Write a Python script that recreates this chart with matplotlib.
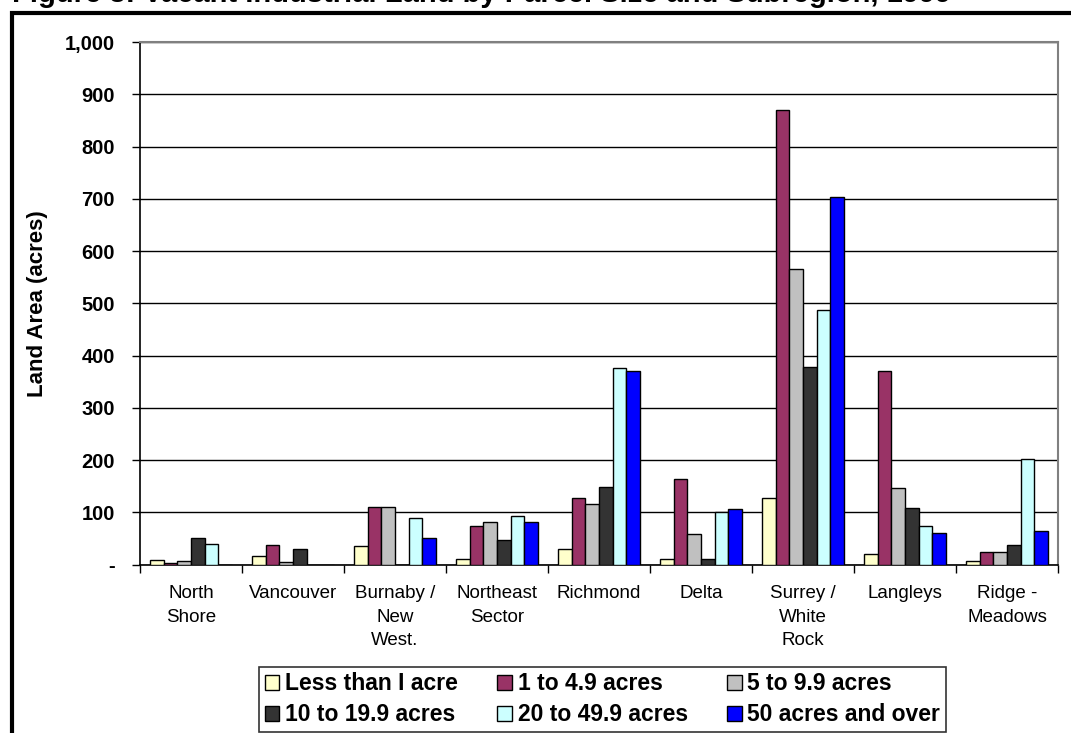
import matplotlib
matplotlib.use("Agg")
import matplotlib.pyplot as plt
import numpy as np
from matplotlib.patches import Rectangle

# Vacant industrial land by parcel size class, per subregion (acres)
subregions = ["North\nShore", "Vancouver", "Burnaby /\nNew\nWest.", "Northeast\nSector",
              "Richmond", "Delta", "Surrey /\nWhite\nRock", "Langleys", "Ridge -\nMeadows"]
size_classes = ["Less than I acre", "1 to 4.9 acres", "5 to 9.9 acres",
                "10 to 19.9 acres", "20 to 49.9 acres", "50 acres and over"]
less_than_1 = [8, 16, 35, 11, 29, 10, 127, 21, 7]
acres_1_to_5 = [2, 37, 111, 74, 127, 163, 870, 370, 23]
acres_5_to_10 = [6, 5, 111, 82, 116, 58, 565, 147, 24]
acres_10_to_20 = [51, 29, 0, 47, 149, 11, 378, 108, 38]
acres_20_to_50 = [39, 0, 89, 92, 376, 101, 487, 73, 201]
acres_50_plus = [0, 0, 50, 82, 370, 106, 704, 60, 65]
y_ticks = [0, 100, 200, 300, 400, 500, 600, 700, 800, 900, 1000]
y_tick_labels = ["-", "100", "200", "300", "400", "500", "600", "700", "800", "900", "1,000"]

series = [less_than_1, acres_1_to_5, acres_5_to_10, acres_10_to_20, acres_20_to_50, acres_50_plus]
colors = ["#FFFFCC", "#993366", "#C0C0C0", "#333333", "#CCFFFF", "#0000FF"]

plt.rcParams["font.family"] = ["Liberation Sans", "DejaVu Sans"]

W, H = 1071, 733
fig = plt.figure(figsize=(W / 100, H / 100), dpi=100)
fig.patch.set_facecolor("white")

ax = fig.add_axes([140 / W, 1 - 564.5 / H, (1058 - 140) / W, (564.5 - 42) / H])

x = np.arange(len(subregions))
bw = 0.134
handles = []
for k, (vals, col, lab) in enumerate(zip(series, colors, size_classes)):
    b = ax.bar(x + (k - 2.5) * bw, vals, width=bw, color=col, edgecolor="black",
               linewidth=1.0, label=lab, zorder=3)
    handles.append(b)

ax.set_xlim(-0.5, len(subregions) - 0.5)
ax.set_ylim(0, 1000)
ax.set_yticks(y_ticks)
ax.set_yticklabels(y_tick_labels, fontsize=14.5, fontweight="bold")
ax.yaxis.grid(True, color="black", linewidth=1.0, zorder=0)
ax.set_axisbelow(True)

ax.set_xticks(x)
ax.set_xticklabels(subregions, fontsize=13.5, linespacing=1.5)
ax.tick_params(axis="x", length=0, pad=15)
ax.set_xticks(np.arange(-0.5, len(subregions)), minor=True)
ax.tick_params(axis="x", which="minor", length=6, width=1, direction="out", color="black")
ax.tick_params(axis="y", length=6, width=1, direction="out", pad=12)

for side in ("top", "right"):
    ax.spines[side].set_color("#808080")
    ax.spines[side].set_linewidth(1.5)
for side in ("left", "bottom"):
    ax.spines[side].set_color("black")
    ax.spines[side].set_linewidth(1.2)

ax.set_ylabel("Land Area (acres)", fontsize=16, fontweight="bold", labelpad=12)

order = [0, 3, 1, 4, 2, 5]
leg = fig.legend([handles[i] for i in order], [size_classes[i] for i in order],
                 ncol=3, loc="upper left", bbox_to_anchor=(259 / W, 1 - 667 / H),
                 frameon=True, fancybox=False, prop={"size": 16.5, "weight": "bold"},
                 handlelength=0.65, handleheight=0.65, handletextpad=0.25,
                 columnspacing=1.7, labelspacing=0.34, borderpad=0.24, borderaxespad=0)
leg.get_frame().set_edgecolor("black")
leg.get_frame().set_linewidth(1.2)

# Outer chart frame (runs off the right and bottom edges)
frame = Rectangle((12 / W, -0.2), 1.2, 1.2 - 13 / H, transform=fig.transFigure,
                  fill=False, edgecolor="black", linewidth=3, clip_on=False)
fig.patches.append(frame)

fig.text(12 / W, 1 - 2 / H, "Figure 3: Vacant Industrial Land by Parcel Size and Subregion, 1999",
         fontsize=21, fontweight="bold", va="baseline", ha="left")

fig.savefig("out.png", dpi=100)
